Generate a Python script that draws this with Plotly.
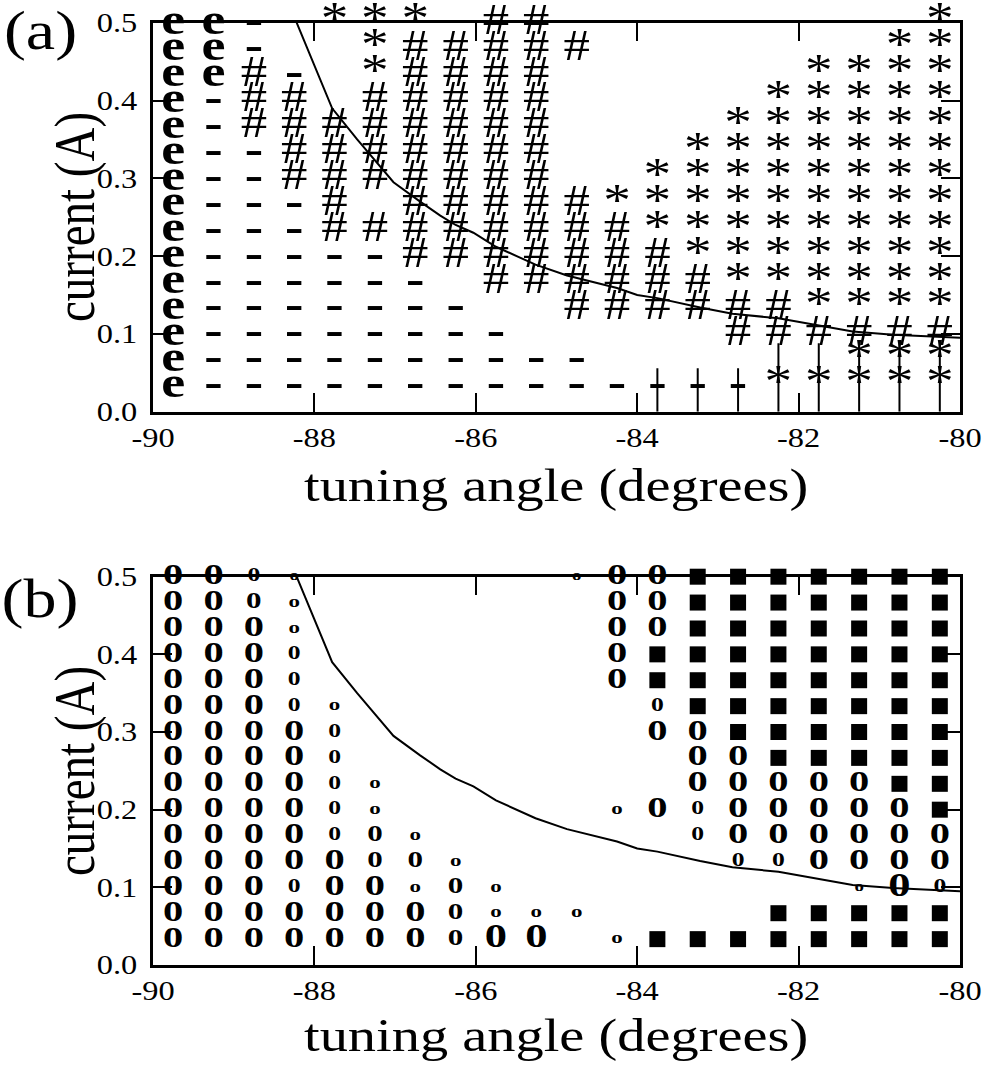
import plotly.graph_objects as go

# ---------------- data ----------------
angles = [-89.75, -89.25, -88.75, -88.25, -87.75, -87.25, -86.75, -86.25, -85.75, -85.25,
          -84.75, -84.25, -83.75, -83.25, -82.75, -82.25, -81.75, -81.25, -80.75, -80.25]
currents = [0.0333, 0.0667, 0.1000, 0.1333, 0.1667, 0.2000, 0.2333, 0.2667,
            0.3000, 0.3333, 0.3667, 0.4000, 0.4333, 0.4667, 0.5000]

# panel (a): one string per angle, bottom (lowest current) to top; '.' = no point
regime_a = [
    "eeeeeeeeeeeeeee",
    "------------eee",
    "----------###--",
    "--------####-..",
    "------#####...*",
    "------#.####***",
    "-----#########*",
    "----.#########.",
    "---.###########",
    "--..###########",
    "--.#####.....#.",
    "-..####*.......",
    "-..###***......",
    "-..##*****.....",
    "-.##*******....",
    "*.##********...",
    "*.#**********..",
    "**#**********..",
    "**#***********.",
    "**#************",
]

# vertical strokes at the bottom of panel (a)
stem_angle = [-83.75, -83.25, -82.75, -82.25, -81.75, -81.25, -80.75, -80.25]
stem_top = [0.056, 0.056, 0.056, 0.088, 0.088, 0.092, 0.092, 0.092]

# panel (b): '1'..'6' = size of the "0" symbol, 'S' = filled square, '.' = none
regime_b = [
    "555555555555555",
    "555555555555555",
    "555555555555543",
    "553555555333221",
    "5555333332.....",
    "5554422........",
    "55242..........",
    "4442...........",
    "622............",
    "62.............",
    ".2............1",
    "2....2....55555",
    "S....5..53SS555",
    "S...33555SSSSSS",
    "S..35555SSSSSSS",
    "SS.3555SSSSSSSS",
    "SS.5555SSSSSSSS",
    "SS15555SSSSSSSS",
    "SS6555SSSSSSSSS",
    "SS355SSSSSSSSSS",
]

# boundary curve
curve_angle = [-88.22, -87.78, -87.47, -87.22, -87.02, -86.69, -86.44, -86.25, -86.03,
               -85.75, -85.49, -85.26, -84.87, -84.25, -84.00, -83.75, -83.22, -82.82,
               -82.25, -81.33, -80.83, -80.00]
curve_current = [0.500, 0.390, 0.350, 0.320, 0.295, 0.270, 0.252, 0.240, 0.230,
                 0.212, 0.200, 0.189, 0.175, 0.159, 0.150, 0.146, 0.134, 0.126,
                 0.120, 0.103, 0.099, 0.095]

x_ticks = [-90, -88, -86, -84, -82, -80]
x_ticktext = ["-90", "-88", "-86", "-84", "-82", "-80"]
y_ticks = [0.0, 0.1, 0.2, 0.3, 0.4, 0.5]
y_ticktext = ["0.0", "0.1", "0.2", "0.3", "0.4", "0.5"]

# ---------------- styles ----------------
SERIF = "Liberation Serif, Times New Roman, serif"
sym_a_style = {
    "e": dict(text="e", size=45, weight="bold"),
    "-": dict(text="-", size=46, weight="bold"),
    "#": dict(text="#", size=44, weight="normal"),
    "*": dict(text="*", size=46, weight="normal"),
}
sym_b_style = {
    "1": dict(text="o", size=14),
    "2": dict(text="o", size=17),
    "3": dict(text="0", size=19),
    "4": dict(text="0", size=23),
    "5": dict(text="0", size=30),
    "6": dict(text="0", size=33),
}

fig = go.Figure()

# panel (a) symbols
for code, st in sym_a_style.items():
    xs, ys = [], []
    for a, col in zip(angles, regime_a):
        for c, ch in zip(currents, col):
            if ch == code:
                xs.append(a)
                ys.append(c)
    fig.add_trace(go.Scatter(
        x=xs, y=ys, mode="text", text=[st["text"]] * len(xs),
        textposition="middle center", cliponaxis=False, hoverinfo="skip",
        textfont=dict(family=SERIF, size=st["size"], color="black", weight=st["weight"]),
        xaxis="x", yaxis="y"))

# stems
sx, sy = [], []
for a, t in zip(stem_angle, stem_top):
    sx += [a, a, None]
    sy += [0.0, t, None]
fig.add_trace(go.Scatter(x=sx, y=sy, mode="lines", line=dict(color="black", width=2),
                         hoverinfo="skip", xaxis="x", yaxis="y"))

# curve panel (a)
fig.add_trace(go.Scatter(x=curve_angle, y=curve_current, mode="lines",
                         line=dict(color="black", width=2), hoverinfo="skip",
                         xaxis="x", yaxis="y"))

# panel (b) symbols
for code, st in sym_b_style.items():
    xs, ys = [], []
    for a, col in zip(angles, regime_b):
        for c, ch in zip(currents, col):
            if ch == code:
                xs.append(a)
                ys.append(c)
    fig.add_trace(go.Scatter(
        x=xs, y=ys, mode="text", text=[st["text"]] * len(xs),
        textposition="middle center", cliponaxis=False, hoverinfo="skip",
        textfont=dict(family=SERIF, size=st["size"], color="black", weight="bold"),
        xaxis="x2", yaxis="y2"))

qx, qy = [], []
for a, col in zip(angles, regime_b):
    for c, ch in zip(currents, col):
        if ch == "S":
            qx.append(a)
            qy.append(c)
fig.add_trace(go.Scatter(x=qx, y=qy, mode="markers", cliponaxis=False,
                         marker=dict(symbol="square", size=16, color="black", line=dict(width=0)),
                         hoverinfo="skip", xaxis="x2", yaxis="y2"))

fig.add_trace(go.Scatter(x=curve_angle, y=curve_current, mode="lines",
                         line=dict(color="black", width=2), hoverinfo="skip",
                         xaxis="x2", yaxis="y2"))

# ---------------- layout ----------------
W, H = 985, 1070
px_left, px_right = 153, 960
a_top, a_bot = 22.7, 411.7
b_top, b_bot = 576.7, 965.0


def xdom():
    return [px_left / W, px_right / W]


def ydom(top, bot):
    return [(H - bot) / H, (H - top) / H]


axis_common = dict(showline=True, linecolor="black", linewidth=2.5, mirror="ticks",
                   ticks="inside", ticklen=19, tickwidth=2, tickcolor="black",
                   showgrid=False, zeroline=False, automargin=False,
                   tickfont=dict(family=SERIF, size=27, color="black"))

fig.update_layout(
    width=W, height=H, margin=dict(l=0, r=0, t=0, b=0, pad=0), autosize=False,
    plot_bgcolor="white", paper_bgcolor="white", showlegend=False,
    xaxis=dict(domain=xdom(), anchor="y", range=[-90, -80], tickvals=x_ticks,
               ticktext=x_ticktext, ticklabelstandoff=0, **axis_common),
    yaxis=dict(domain=ydom(a_top, a_bot), anchor="x", range=[0, 0.5], tickvals=y_ticks,
               ticktext=y_ticktext, ticklabelstandoff=11, **axis_common),
    xaxis2=dict(domain=xdom(), anchor="y2", range=[-90, -80], tickvals=x_ticks,
                ticktext=x_ticktext, ticklabelstandoff=0, **axis_common),
    yaxis2=dict(domain=ydom(b_top, b_bot), anchor="x2", range=[0, 0.5], tickvals=y_ticks,
                ticktext=y_ticktext, ticklabelstandoff=11, **axis_common),
)

title_font = dict(family=SERIF, size=47, color="black")
ann = []
for (xt_y, yt_y, lab, lab_y) in [(485, 217, "(a)", 30), (1035, 771, "(b)", 598)]:
    ann.append(dict(text="tuning angle (degrees)", x=556 / W, y=(H - xt_y) / H,
                    xref="paper", yref="paper", showarrow=False, font=title_font,
                    xanchor="center", yanchor="middle"))
    ann.append(dict(text="current (A)", x=75 / W, y=(H - yt_y) / H, textangle=-90,
                    xref="paper", yref="paper", showarrow=False, font=title_font,
                    xanchor="center", yanchor="middle"))
    ann.append(dict(text=lab, x=40 / W, y=(H - lab_y) / H, xref="paper", yref="paper",
                    showarrow=False, font=dict(family=SERIF, size=55, color="black"),
                    xanchor="center", yanchor="middle"))
fig.update_layout(annotations=ann)

# the reference typesetting is horizontally widened; widen every glyph about its own centre
stretch_js = """
(function(){
  var nodes = document.querySelectorAll('svg.main-svg text');
  nodes.forEach(function(t){
    if (t.getAttribute('data-wide')) return;
    var bb;
    try { bb = t.getBBox(); } catch (e) { return; }
    if (!bb || bb.width === 0) return;
    var s = 1.2;
    if (t.closest('.x2y2') && t.closest('.textpoint')) s = 1.35;
    var cx = bb.x + bb.width / 2, cy = bb.y + bb.height / 2;
    var sc = (t.textContent === 'current (A)') ? ('scale(1,' + s + ')') : ('scale(' + s + ',1)');
    var tr = t.getAttribute('transform') || '';
    t.setAttribute('transform', tr + ' translate(' + cx + ',' + cy + ') ' + sc +
                   ' translate(' + (-cx) + ',' + (-cy) + ')');
    t.setAttribute('data-wide', '1');
  });
})();
"""

fig.write_html("out.html", config={"displayModeBar": False},
               post_script="document.body.style.margin='0px';document.body.style.overflow='hidden';"
                           + stretch_js)
